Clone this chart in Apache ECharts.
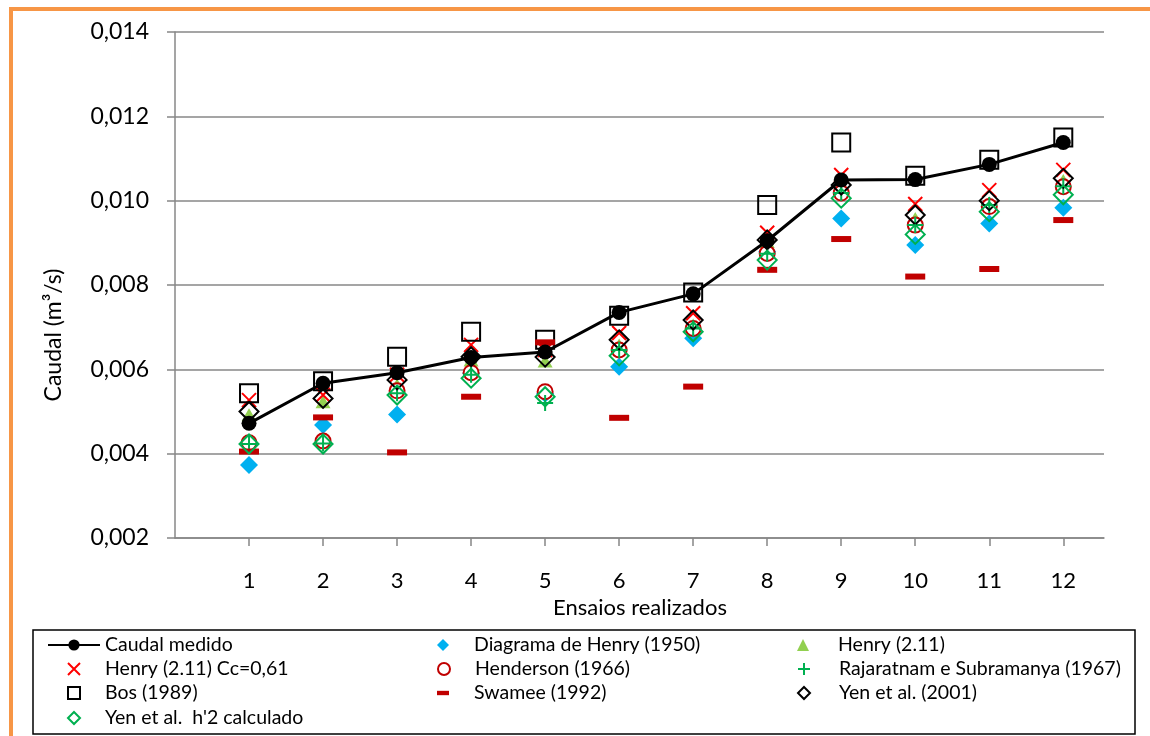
<!DOCTYPE html>
<html>
<head>
<meta charset="utf-8">
<script src="https://cdn.jsdelivr.net/npm/echarts@6/dist/echarts.min.js"></script>
<style>
html,body{margin:0;padding:0;background:#fff;}
#c{width:1150px;height:736px;}
</style>
</head>
<body>
<div id="c"></div>
<script>
const categories = [1, 2, 3, 4, 5, 6, 7, 8, 9, 10, 11, 12];
const yTicks = [0.002, 0.004, 0.006, 0.008, 0.010, 0.012, 0.014];

const caudalMedido   = [0.00472, 0.00567, 0.00592, 0.00628, 0.00641, 0.00735, 0.00779, 0.00905, 0.01049, 0.01050, 0.01086, 0.01138];
const diagramaHenry  = [0.00373, 0.00468, 0.00493, 0.00591, 0.00542, 0.00606, 0.00674, 0.00879, 0.00958, 0.00895, 0.00946, 0.00983];
const henry211       = [0.00492, 0.00523, 0.00563, 0.00622, 0.00620, 0.00658, 0.00705, 0.00903, 0.01032, 0.00958, 0.00995, 0.01048];
const henryCc061     = [0.00527, 0.00539, 0.00587, 0.00658, 0.00646, 0.00686, 0.00733, 0.00924, 0.01061, 0.00992, 0.01025, 0.01073];
const henderson      = [0.00426, 0.00430, 0.00549, 0.00592, 0.00547, 0.00646, 0.00697, 0.00875, 0.01018, 0.00942, 0.00986, 0.01033];
const rajaratnam     = [0.00423, 0.00424, 0.00543, 0.00587, 0.00520, 0.00646, 0.00697, 0.00874, 0.01018, 0.00942, 0.00990, 0.01034];
const bos            = [0.00543, 0.00572, 0.00630, 0.00689, 0.00670, 0.00727, 0.00782, 0.00990, 0.01138, 0.01059, 0.01097, 0.01150];
const swamee         = [0.00405, 0.00486, 0.00403, 0.00535, 0.00664, 0.00485, 0.00559, 0.00836, 0.00909, 0.00820, 0.00838, 0.00954];
const yen2001        = [0.00500, 0.00531, 0.00575, 0.00630, 0.00629, 0.00670, 0.00717, 0.00907, 0.01037, 0.00966, 0.01000, 0.01053];
const yenH2          = [0.00423, 0.00423, 0.00539, 0.00579, 0.00535, 0.00632, 0.00689, 0.00859, 0.01006, 0.00920, 0.00974, 0.01014];

const names = {
  caudal: 'Caudal medido',
  diag: 'Diagrama de Henry (1950)',
  h211: 'Henry (2.11)',
  hcc: 'Henry (2.11) Cc=0,61',
  hend: 'Henderson (1966)',
  raja: 'Rajaratnam e Subramanya (1967)',
  bos: 'Bos (1989)',
  swa: 'Swamee (1992)',
  yen: 'Yen et al. (2001)',
  yenh: "Yen et al.  h'2 calculado"
};

const FONT = 'Lato';
const pts = arr => arr.map((v, i) => [categories[i], v]);

const X_PATH = 'path://M0,0L10,10M10,0L0,10';
const PLUS_PATH = 'path://M5,0L5,10M0,5L10,5';
const DASH_PATH = 'path://M0,0L22,0L22,8L0,8Z';

const chart = echarts.init(document.getElementById('c'), null, {renderer: 'canvas'});

function scatter(name, data, symbol, size, itemStyle) {
  return {
    name: name, type: 'scatter', data: pts(data), symbol: symbol, symbolSize: size,
    itemStyle: Object.assign({opacity: 1}, itemStyle), emphasis: {disabled: true}, animation: false
  };
}

// legend layout: [name, markerCenterX, rowCenterY, textX, icon]
const rowY = [645, 669, 693, 718];
const legendLayout = [
  [names.caudal, 73, rowY[0], 104, null],
  [names.hcc,    73, rowY[1], 104, null],
  [names.bos,    73, rowY[2], 104, null],
  [names.yenh,   73, rowY[3], 104, null],
  [names.diag,  443, rowY[0], 474, null],
  [names.hend,  443, rowY[1], 474, null],
  [names.swa,   443, rowY[2], 474, DASH_PATH],
  [names.h211,  803, rowY[0], 838, null],
  [names.raja,  803, rowY[1], 838, null],
  [names.yen,   803, rowY[2], 838, null]
];
const LEG_FS = 19.5;
const legends = legendLayout.map(([name, cx, cy, tx, icon]) => {
  const isLine = name === names.caudal;
  const iw = isLine ? 52 : 12;
  const ih = isLine ? 14 : 12;
  const left = cx - iw / 2;
  const pad = tx - (left + iw + 5);
  const item = {name: name};
  if (icon) item.icon = icon;
  return {
    left: left, top: cy - 12, orient: 'horizontal', padding: 0,
    itemWidth: iw, itemHeight: ih, selectedMode: false,
    textStyle: {fontFamily: FONT, fontSize: LEG_FS, color: '#000', padding: [0, 0, 0, pad], lineHeight: 24},
    data: [item]
  };
});

const option = {
  animation: false,
  backgroundColor: '#fff',
  grid: {left: 175, top: 32, right: 46, bottom: 198},
  xAxis: {
    type: 'value', min: 0, max: 12.55, interval: 1,
    axisLine: {show: true, lineStyle: {color: '#878787', width: 1.5}},
    axisTick: {show: true, length: 8, lineStyle: {color: '#878787', width: 1.5}, customValues: categories},
    axisLabel: {fontFamily: FONT, fontSize: 22, color: '#000', margin: 32, customValues: categories,
      formatter: v => String(v)},
    splitLine: {show: false}
  },
  yAxis: {
    type: 'value', min: 0.002, max: 0.014, interval: 0.002,
    axisLine: {show: true, lineStyle: {color: '#878787', width: 1.5}},
    axisTick: {show: true, length: 8, lineStyle: {color: '#878787', width: 1.5}, customValues: yTicks},
    axisLabel: {fontFamily: FONT, fontSize: 23, color: '#000', margin: 26, customValues: yTicks,
      formatter: v => v.toFixed(3).replace('.', ',')},
    splitLine: {show: true, lineStyle: {color: '#878787', width: 1.5}}
  },
  legend: legends,
  series: [
    {
      name: names.caudal, type: 'line', data: pts(caudalMedido),
      symbol: 'circle', symbolSize: 15, showSymbol: true,
      lineStyle: {color: '#000', width: 3}, itemStyle: {color: '#000', opacity: 1},
      emphasis: {disabled: true}, animation: false
    },
    scatter(names.diag, diagramaHenry, 'diamond', [18, 18], {color: '#00B0F0'}),
    scatter(names.h211, henry211, 'triangle', [15, 13], {color: '#92D050'}),
    scatter(names.hcc, henryCc061, X_PATH, 14, {color: 'rgba(0,0,0,0)', borderColor: '#FF0000', borderWidth: 2}),
    scatter(names.hend, henderson, 'emptyCircle', 15, {color: '#C00000', borderColor: '#C00000', borderWidth: 2}),
    scatter(names.raja, rajaratnam, PLUS_PATH, 16, {color: 'rgba(0,0,0,0)', borderColor: '#00B050', borderWidth: 2}),
    scatter(names.bos, bos, 'rect', 18, {color: 'rgba(0,0,0,0)', borderColor: '#000', borderWidth: 2}),
    scatter(names.swa, swamee, 'rect', [20, 6], {color: '#C00000'}),
    scatter(names.yen, yen2001, 'diamond', [19, 19], {color: 'rgba(0,0,0,0)', borderColor: '#000', borderWidth: 2}),
    scatter(names.yenh, yenH2, 'diamond', [19, 19], {color: 'rgba(0,0,0,0)', borderColor: '#00B050', borderWidth: 2})
  ],
  graphic: [
    {type: 'rect', shape: {x: 9, y: 7, width: 4, height: 740}, style: {fill: '#F79646'}, silent: true},
    {type: 'rect', shape: {x: 9, y: 7, width: 1150, height: 4}, style: {fill: '#F79646'}, silent: true},
    {type: 'rect', shape: {x: 33, y: 630, width: 1102, height: 104}, style: {fill: 'none', stroke: '#000', lineWidth: 1.5}, silent: true},
    {type: 'text', x: 54, y: 335, rotation: Math.PI / 2,
      style: {text: 'Caudal (m³/s)', fontFamily: FONT, fontSize: 23, fill: '#000', align: 'center', verticalAlign: 'middle'}},
    {type: 'text', x: 640, y: 608,
      style: {text: 'Ensaios realizados', fontFamily: FONT, fontSize: 22, fill: '#000', align: 'center', verticalAlign: 'middle'}}
  ]
};
chart.setOption(option);
</script>
</body>
</html>
